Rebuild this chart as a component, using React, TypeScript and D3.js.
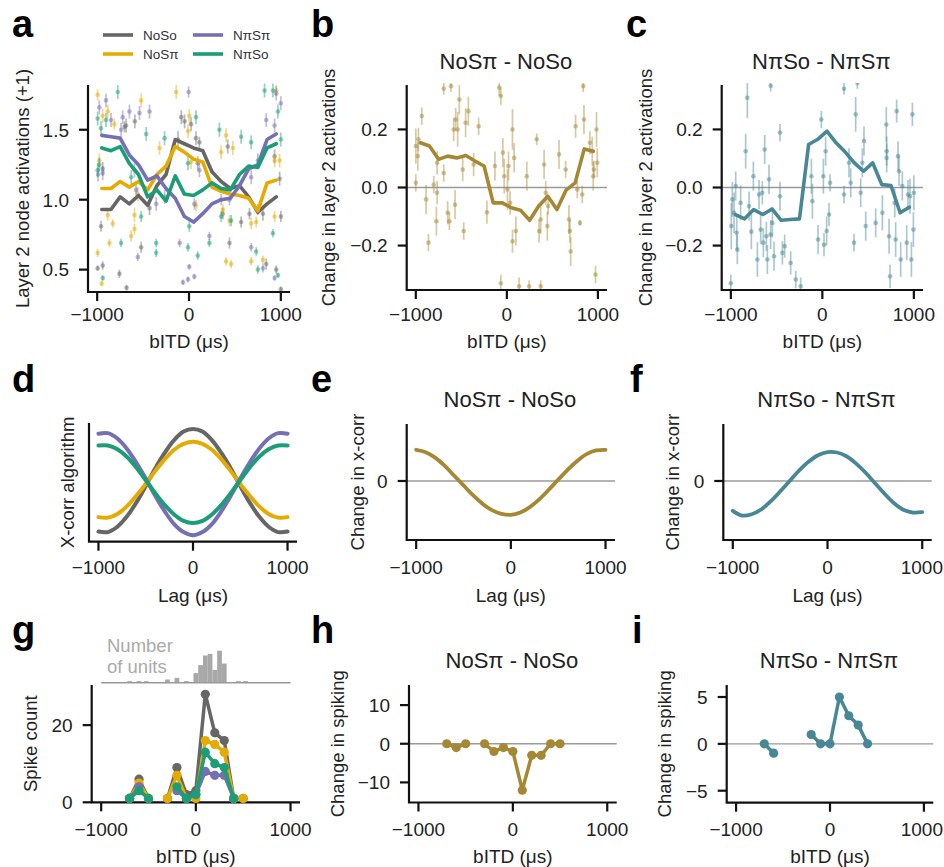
import { useEffect, useRef } from 'react';
import * as d3 from 'd3';

const FONT = '"Liberation Sans", Arial, sans-serif';
const GRAY = '#666666';
const YELLOW = '#e6ab02';
const PURPLE = '#7570b3';
const GREEN = '#1b9e77';
const BROWN = '#a68834';
const TEAL = '#488795';

// ---- a-c : binned layer-2 activations (bin centres in us)
const binCentres = [-950, -850, -750, -650, -550, -450, -350, -250, -150, -50, 50, 150, 250, 350, 450, 550, 650, 750, 850, 950];
const meanNoSo = [0.93, 0.93, 1.02, 0.97, 1.03, 0.96, 1.10, 1.18, 1.43, 1.40, 1.37, 1.35, 1.20, 1.13, 1.08, 1.10, 1.02, 0.91, 0.97, 1.02];
const meanNoSpi = [1.08, 1.08, 1.13, 1.09, 1.13, 1.07, 1.18, 1.24, 1.38, 1.34, 1.29, 1.27, 1.09, 1.06, 1.04, 1.03, 1.01, 0.92, 1.12, 1.14];
const meanNpiSpi = [1.46, 1.45, 1.44, 1.32, 1.25, 1.14, 1.17, 1.08, 1.01, 0.88, 0.84, 0.90, 0.97, 1.00, 1.01, 1.10, 1.22, 1.25, 1.43, 1.47];
const meanNpiSo = [1.37, 1.35, 1.38, 1.26, 1.18, 1.02, 1.07, 0.99, 1.17, 1.04, 1.03, 1.07, 1.12, 1.08, 1.07, 1.18, 1.24, 1.23, 1.37, 1.40];
const diffNoS = [0.154, 0.143, 0.097, 0.108, 0.102, 0.110, 0.091, 0.074, -0.053, -0.053, -0.070, -0.078, -0.113, -0.064, -0.030, -0.076, -0.009, 0.016, 0.133, 0.125];
const diffNpi = [-0.093, -0.108, -0.076, -0.093, -0.074, -0.113, -0.110, -0.108, 0.148, 0.166, 0.194, 0.154, 0.122, 0.085, 0.056, 0.085, 0.010, 0.007, -0.087, -0.068];

// single units: [bITD, value, error]
const unitsNoSo = [[-940, 1.22, 0.05], [-703, 1.52, 0.04], [-685, 1.53, 0.05], [-958, 0.81, 0.04], [-940, 0.53, 0.03], [-758, 0.47, 0.03], [-521, 0.66, 0.04], [-430, 0.94, 0.05], [-120, 1.43, 0.06], [-84, 1.59, 0.05], [-48, 1.56, 0.05], [22, 1.54, 0.05], [76, 1.44, 0.05], [113, 1.41, 0.04], [95, 1.26, 0.05], [368, 0.90, 0.04], [422, 1.38, 0.05], [441, 0.69, 0.04], [568, 0.84, 0.04], [659, 0.90, 0.04], [805, 0.90, 0.05], [932, 1.31, 0.05], [987, 1.15, 0.05], [1000, 0.88, 0.04], [841, 0.54, 0.04], [950, 0.50, 0.03], [-995, 0.51, 0.02], [-590, 1.56, 0.05], [-680, 0.37, 0.02], [1000, 0.36, 0.02]];
const unitsNoSpi = [[-995, 1.75, 0.04], [-940, 1.60, 0.05], [-885, 1.63, 0.05], [-813, 1.54, 0.04], [-977, 1.28, 0.05], [-885, 0.89, 0.04], [-831, 0.83, 0.03], [-995, 0.62, 0.03], [-867, 0.69, 0.03], [-951, 0.40, 0.02], [-558, 1.04, 0.05], [-521, 1.71, 0.05], [-594, 0.89, 0.05], [-594, 0.79, 0.04], [-630, 0.74, 0.04], [-321, 1.37, 0.05], [-139, 1.77, 0.05], [-11, 1.49, 0.05], [3, 1.60, 0.05], [22, 1.27, 0.05], [76, 0.96, 0.04], [350, 1.34, 0.05], [404, 1.46, 0.05], [477, 1.37, 0.05], [368, 0.93, 0.04], [441, 0.85, 0.04], [677, 0.83, 0.04], [732, 0.84, 0.04], [805, 0.57, 0.03], [932, 1.28, 0.05], [987, 1.28, 0.05], [932, 0.88, 0.04], [404, 0.56, 0.03], [459, 0.54, 0.03], [677, 0.56, 0.03], [950, 1.78, 0.04]];
const unitsNpiSpi = [[-977, 1.66, 0.05], [-904, 1.71, 0.05], [-849, 1.57, 0.05], [-740, 1.50, 0.05], [-722, 1.59, 0.05], [-649, 1.63, 0.05], [-539, 1.62, 0.05], [-430, 1.63, 0.05], [-594, 1.21, 0.05], [-576, 1.07, 0.04], [-558, 0.59, 0.03], [-357, 0.97, 0.05], [-266, 1.02, 0.05], [-102, 0.69, 0.03], [-66, 0.41, 0.02], [-11, 0.43, 0.02], [-4, 1.77, 0.04], [58, 0.97, 0.04], [113, 1.21, 0.05], [222, 0.74, 0.03], [350, 1.0, 0.04], [441, 1.0, 0.04], [677, 1.16, 0.05], [750, 0.93, 0.04], [841, 1.57, 0.05], [932, 1.53, 0.05], [950, 1.76, 0.05], [1000, 1.69, 0.05], [677, 0.66, 0.03], [805, 0.51, 0.03], [932, 0.44, 0.02], [3, 0.52, 0.02], [58, 0.45, 0.02], [-990, 1.18, 0.05], [-940, 1.19, 0.05]];
const unitsNpiSo = [[-995, 1.21, 0.05], [-977, 1.25, 0.05], [-958, 1.51, 0.05], [-904, 1.57, 0.05], [-776, 1.77, 0.05], [-740, 0.69, 0.03], [-630, 1.16, 0.05], [-521, 0.88, 0.04], [-466, 1.47, 0.05], [-357, 0.69, 0.03], [-357, 0.62, 0.03], [-266, 1.44, 0.05], [-11, 0.66, 0.03], [-11, 1.26, 0.05], [76, 1.59, 0.05], [3, 0.81, 0.04], [95, 0.60, 0.03], [222, 0.69, 0.03], [331, 1.50, 0.05], [350, 0.88, 0.04], [459, 0.85, 0.04], [568, 1.45, 0.05], [677, 1.41, 0.05], [750, 1.28, 0.05], [823, 1.78, 0.05], [914, 1.78, 0.05], [969, 1.63, 0.05], [1000, 1.43, 0.05], [914, 0.76, 0.03], [750, 0.50, 0.03], [732, 0.63, 0.03], [969, 0.46, 0.02], [-995, 1.58, 0.05], [-940, 0.44, 0.02]];
const unitsDiffNoS = [[-1000, 0.143, 0.06], [-1000, 0.016, 0.03], [-978, 0.108, 0.05], [-971, 0.166, 0.04], [-934, 0.246, 0.03], [-887, -0.041, 0.05], [-861, -0.19, 0.03], [-803, 0.01, 0.03], [-774, -0.116, 0.05], [-766, -0.018, 0.04], [-766, 0.085, 0.04], [-693, 0.34, 0.02], [-693, 0.05, 0.03], [-650, -0.087, 0.04], [-631, -0.116, 0.03], [-613, 0.349, 0.02], [-584, 0.2, 0.04], [-569, -0.059, 0.05], [-562, 0.234, 0.04], [-540, 0.2, 0.06], [-522, 0.303, 0.05], [-485, 0.062, 0.04], [-474, -0.15, 0.03], [-453, 0.223, 0.05], [-423, 0.263, 0.05], [-365, 0.079, 0.04], [-310, 0.211, 0.03], [-219, -0.085, 0.04], [-131, 0.074, 0.05], [-84, 0.344, 0.03], [-66, 0.315, 0.03], [-44, 0.12, 0.05], [-29, 0.039, 0.06], [7, -0.007, 0.07], [18, 0.074, 0.05], [36, -0.053, 0.04], [62, 0.2, 0.07], [62, -0.185, 0.04], [80, 0.102, 0.05], [99, -0.15, 0.05], [-66, -0.33, 0.03], [135, -0.34, 0.03], [245, -0.34, 0.02], [372, -0.34, 0.02], [219, 0.039, 0.05], [328, 0.166, 0.02], [354, -0.15, 0.04], [372, -0.11, 0.05], [409, 0.079, 0.05], [427, -0.018, 0.04], [445, -0.133, 0.05], [453, -0.064, 0.03], [573, 0.114, 0.05], [646, 0.062, 0.03], [682, -0.11, 0.05], [693, -0.15, 0.04], [701, -0.22, 0.05], [755, 0.211, 0.04], [774, -0.007, 0.03], [803, -0.122, 0.01], [828, -0.024, 0.03], [839, 0.349, 0.02], [847, 0.234, 0.05], [912, 0.154, 0.04], [938, 0.125, 0.05], [949, 0.039, 0.05], [956, 0.062, 0.03], [974, -0.3, 0.03], [985, 0.2, 0.06], [993, 0.085, 0.05]];
const unitsDiffNpi = [[-995, -0.133, 0.08], [-984, -0.041, 0.06], [-965, -0.087, 0.07], [-947, 0.005, 0.05], [-936, -0.156, 0.06], [-929, -0.214, 0.05], [-893, -0.053, 0.06], [-838, 0.125, 0.06], [-820, 0.309, 0.07], [-801, -0.064, 0.05], [-776, -0.152, 0.06], [-754, 0.039, 0.05], [-710, -0.248, 0.06], [-692, -0.024, 0.05], [-674, -0.145, 0.05], [-656, -0.018, 0.04], [-645, -0.19, 0.05], [-630, 0.131, 0.05], [-612, -0.168, 0.05], [-601, -0.248, 0.05], [-583, 0.028, 0.05], [-565, -0.162, 0.05], [-546, -0.122, 0.05], [-528, -0.237, 0.05], [-463, 0.189, 0.03], [-463, -0.03, 0.05], [-437, -0.225, 0.04], [-412, -0.202, 0.04], [-346, -0.26, 0.04], [-291, -0.317, 0.03], [-120, 0.039, 0.06], [-109, -0.047, 0.06], [-47, -0.179, 0.05], [-11, 0.234, 0.03], [11, 0.039, 0.06], [18, -0.197, 0.04], [36, 0.125, 0.05], [47, -0.15, 0.05], [73, -0.093, 0.04], [84, 0.016, 0.03], [237, -0.024, 0.03], [291, 0.085, 0.05], [310, 0.016, 0.05], [346, -0.19, 0.03], [364, 0.252, 0.06], [419, -0.018, 0.05], [437, 0.085, 0.05], [455, 0.16, 0.05], [474, -0.133, 0.05], [583, -0.122, 0.05], [656, -0.087, 0.06], [699, 0.217, 0.06], [703, 0.125, 0.05], [703, 0.102, 0.05], [729, -0.168, 0.06], [740, -0.306, 0.04], [791, -0.053, 0.05], [801, -0.179, 0.06], [812, 0.263, 0.04], [827, 0.108, 0.05], [838, 0.056, 0.05], [856, -0.248, 0.06], [874, 0.005, 0.05], [922, -0.19, 0.06], [936, -0.024, 0.05], [958, -0.03, 0.06], [973, -0.248, 0.06], [984, 0.252, 0.04], [995, -0.145, 0.06], [1000, -0.018, 0.06], [-565, 0.35, 0.02], [237, 0.34, 0.02], [383, 0.36, 0.02], [-237, -0.34, 0.03], [-1000, -0.33, 0.03]];

// ---- d-f : cross-correlation model
const lags = [-1000, -900, -800, -700, -600, -500, -400, -300, -200, -100, 0, 100, 200, 300, 400, 500, 600, 700, 800, 900, 1000];
const xcNoSo = [-0.92, -0.93, -0.83, -0.64, -0.38, -0.07, 0.26, 0.55, 0.79, 0.95, 1.0, 0.95, 0.79, 0.55, 0.26, -0.07, -0.38, -0.64, -0.83, -0.93, -0.92];
const xcNoSpi = [-0.65, -0.66, -0.59, -0.45, -0.25, -0.03, 0.21, 0.43, 0.61, 0.72, 0.76, 0.72, 0.61, 0.43, 0.21, -0.03, -0.25, -0.45, -0.59, -0.66, -0.65];
const xcNpiSpi = [0.91, 0.92, 0.82, 0.63, 0.37, 0.07, -0.25, -0.54, -0.78, -0.93, -0.99, -0.93, -0.78, -0.54, -0.25, 0.07, 0.37, 0.63, 0.82, 0.92, 0.91];
const xcNpiSo = [0.69, 0.69, 0.62, 0.48, 0.28, 0.04, -0.20, -0.42, -0.60, -0.72, -0.76, -0.72, -0.60, -0.42, -0.20, 0.04, 0.28, 0.48, 0.62, 0.69, 0.69];
const xcDiffNoS = [0.92, 0.85, 0.69, 0.45, 0.16, -0.13, -0.42, -0.67, -0.86, -0.97, -1.0, -0.93, -0.77, -0.54, -0.26, 0.04, 0.33, 0.59, 0.79, 0.90, 0.92];
const xcDiffNpi = [-0.88, -1.02, -0.98, -0.84, -0.60, -0.31, 0.0, 0.31, 0.57, 0.76, 0.85, 0.84, 0.73, 0.52, 0.25, -0.06, -0.37, -0.65, -0.85, -0.93, -0.92];

// ---- g-i : recorded spiking
const spikeX = [-700, -600, -500, -300, -200, -100, 0, 100, 200, 300, 400, 500];
const spikeNoSo = [1, 6, 1, 1, 9, 2, 3, 28, 18, 16, 1, 1];
const spikeNoSpi = [1, 5, 1, 1, 7, 1, 1, 16, 15, 13, 1, 1];
const spikeNpiSpi = [1, 4, null, null, 3, 1, 2, 8, 7, 7, 1, null];
const spikeNpiSo = [1, 3, 1, null, 4, 1, 2, 13, 10, 9, 1, null];
const spikeDiffNoS = [0, -1, 0, 0, -2, -1, -2, -12, -3, -3, 0, 0];
const spikeDiffX = [-700, -600, -200, -100, 0, 100, 200, 300, 400];
const spikeDiffNpi = [0, -1, 1, 0, 0, 5, 3, 2, 0];
const unitBinLeft = [-725, -625, -550, -325, -225, -125, -25, 25, 75, 125, 175, 225, 275, 425, 500];
const unitBinCount = [1, 1, 1, 2, 3, 1, 6, 11, 17, 18, 8, 20, 12, 1, 1];
const unitBinWidth = 50;

type Box = { l: number; r: number; t: number; b: number };

export default function App() {
  const ref = useRef<SVGSVGElement>(null);

  useEffect(() => {
    const svg = d3.select(ref.current);
    svg.selectAll('*').remove();
    svg.append('rect').attr('width', 944).attr('height', 867).attr('fill', '#fff');

    const xOf = (b: Box) => d3.scaleLinear().domain([-1100, 1100]).range([b.l, b.r]);
    const fmt1 = d3.format('.1f');
    const fmt0 = d3.format('d');
    const TICK = 19;
    let clipId = 0;

    function text(x: number, y: number, s: string, size: number, anchor = 'middle', fill = '#222', weight = 'normal') {
      return svg.append('text')
        .attr('x', x).attr('y', y)
        .attr('text-anchor', anchor)
        .attr('font-family', FONT)
        .attr('font-size', size)
        .attr('font-weight', weight)
        .attr('fill', fill)
        .text(s);
    }

    function frame(b: Box, x: any, y: any, o: any) {
      const g = svg.append('g');
      if (o.zero) {
        g.append('line')
          .attr('x1', b.l).attr('x2', b.r)
          .attr('y1', y(0)).attr('y2', y(0))
          .attr('stroke', '#9a9a9a').attr('stroke-width', 1.4);
      }
      g.append('path')
        .attr('d', `M${b.l},${b.t}V${b.b}H${b.r}`)
        .attr('fill', 'none').attr('stroke', '#111').attr('stroke-width', 2.2);
      [-1000, 0, 1000].forEach(t => {
        g.append('line').attr('x1', x(t)).attr('x2', x(t)).attr('y1', b.b).attr('y2', b.b + 9)
          .attr('stroke', '#111').attr('stroke-width', 2.2);
        const s = fmt0(t);
        const half = s.length * 0.278 * TICK;
        text(Math.min(x(t), 943 - half), o.tickY, s, TICK);
      });
      o.yTicks.forEach((t: number) => {
        g.append('line').attr('x1', b.l - 9).attr('x2', b.l).attr('y1', y(t)).attr('y2', y(t))
          .attr('stroke', '#111').attr('stroke-width', 2.2);
        text(b.l - 19, y(t), o.yFmt(t), TICK, 'end').attr('dy', '0.36em');
      });
      text((b.l + b.r) / 2, o.labelY, o.xLabel, 19);
      text(0, 0, o.yLabel, 18.5)
        .attr('transform', `translate(${o.yLabelX},${(b.t + b.b) / 2}) rotate(-90)`)
        .attr('dy', '0.36em');
      if (o.title) text(x(0) - 1, o.titleY, o.title, 22);
    }

    function clip(b: Box) {
      const id = `clip${clipId++}`;
      svg.append('clipPath').attr('id', id)
        .append('rect').attr('x', b.l).attr('y', b.t - 2).attr('width', b.r - b.l).attr('height', b.b - b.t + 2);
      return svg.append('g').attr('clip-path', `url(#${id})`);
    }

    function units(g: any, x: any, y: any, data: number[][], color: string) {
      data.forEach(([ux, v, e]) => {
        const px = x(Math.max(-1000, Math.min(1000, ux)));
        g.append('line').attr('x1', px).attr('x2', px).attr('y1', y(v - e)).attr('y2', y(v + e))
          .attr('stroke', color).attr('stroke-width', 1.7).attr('opacity', 0.45);
        g.append('circle').attr('cx', px).attr('cy', y(v)).attr('r', 2.3)
          .attr('fill', color).attr('opacity', 0.5);
      });
    }

    function curve(g: any, x: any, y: any, xs: number[], vs: number[], color: string, w: number, smooth = false) {
      const line = d3.line<number>()
        .x((_, i) => x(xs[i]))
        .y(d => y(d));
      if (smooth) line.curve(d3.curveCatmullRom);
      g.append('path').datum(vs).attr('d', line)
        .attr('fill', 'none').attr('stroke', color).attr('stroke-width', w)
        .attr('stroke-linejoin', 'round').attr('stroke-linecap', 'round');
    }

    function dotted(g: any, x: any, y: any, xs: number[], vs: (number | null)[], color: string) {
      // split into runs of consecutive 100 us steps
      const runs: [number, number][][] = [];
      let cur: [number, number][] = [];
      xs.forEach((xv, i) => {
        const v = vs[i];
        if (v == null) { if (cur.length) runs.push(cur); cur = []; return; }
        if (cur.length && xv - cur[cur.length - 1][0] > 100) { runs.push(cur); cur = []; }
        cur.push([xv, v]);
      });
      if (cur.length) runs.push(cur);
      const line = d3.line<[number, number]>().x(d => x(d[0])).y(d => y(d[1]));
      runs.forEach(r => {
        g.append('path').datum(r).attr('d', line).attr('fill', 'none')
          .attr('stroke', color).attr('stroke-width', 3.5).attr('stroke-linejoin', 'round');
        r.forEach(d => g.append('circle').attr('cx', x(d[0])).attr('cy', y(d[1])).attr('r', 4.6).attr('fill', color));
      });
    }

    // ---------- a
    {
      const b: Box = { l: 88, r: 290, t: 85, b: 292 };
      const x = xOf(b);
      const y = d3.scaleLinear().domain([0.34, 1.82]).range([b.b, b.t]);
      const g = clip(b);
      units(g, x, y, unitsNoSo, GRAY);
      units(g, x, y, unitsNoSpi, YELLOW);
      units(g, x, y, unitsNpiSpi, PURPLE);
      units(g, x, y, unitsNpiSo, GREEN);
      curve(g, x, y, binCentres, meanNoSo, GRAY, 3.6);
      curve(g, x, y, binCentres, meanNoSpi, YELLOW, 3.6);
      curve(g, x, y, binCentres, meanNpiSpi, PURPLE, 3.6);
      curve(g, x, y, binCentres, meanNpiSo, GREEN, 3.6);
      frame(b, x, y, { yTicks: [0.5, 1.0, 1.5], yFmt: fmt1, tickY: 321, labelY: 348, xLabel: 'bITD (μs)', yLabel: 'Layer 2 node activations (+1)', yLabelX: 22 });
      const legend = [['NoSo', GRAY, 0, 0], ['NoSπ', YELLOW, 0, 1], ['NπSπ', PURPLE, 1, 0], ['NπSo', GREEN, 1, 1]] as const;
      legend.forEach(([name, color, col, row]) => {
        const lx = 103 + col * 90;
        const ly = 35 + row * 19;
        svg.append('line').attr('x1', lx).attr('x2', lx + 30).attr('y1', ly).attr('y2', ly)
          .attr('stroke', color).attr('stroke-width', 3.6);
        text(lx + 40, ly + 4.8, name, 13.5, 'start', '#333');
      });
    }

    // ---------- b, c
    [
      { b: { l: 406.7, r: 607, t: 85, b: 290 }, units: unitsDiffNoS, mean: diffNoS, color: BROWN, title: 'NoSπ - NoSo', ylx: 328 },
      { b: { l: 721.7, r: 923, t: 85, b: 290 }, units: unitsDiffNpi, mean: diffNpi, color: TEAL, title: 'NπSo - NπSπ', ylx: 645 },
    ].forEach(p => {
      const x = xOf(p.b);
      const y = d3.scaleLinear().domain([-0.353, 0.353]).range([p.b.b, p.b.t]);
      svg.append('line').attr('x1', p.b.l).attr('x2', p.b.r).attr('y1', y(0)).attr('y2', y(0))
        .attr('stroke', '#9a9a9a').attr('stroke-width', 1.4);
      const g = clip(p.b);
      units(g, x, y, p.units, p.color);
      curve(g, x, y, binCentres, p.mean, p.color, 3.6);
      frame(p.b, x, y, { yTicks: [-0.2, 0, 0.2], yFmt: fmt1, tickY: 321, labelY: 348, xLabel: 'bITD (μs)', yLabel: 'Change in layer 2 activations', yLabelX: p.ylx, title: p.title, titleY: 69 });
    });

    // ---------- d
    {
      const b: Box = { l: 89, r: 297, t: 423, b: 541.7 };
      const x = xOf(b);
      const y = d3.scaleLinear().domain([-1.11, 1.11]).range([b.b, b.t]);
      curve(svg, x, y, lags, xcNoSo, GRAY, 4, true);
      curve(svg, x, y, lags, xcNoSpi, YELLOW, 4, true);
      curve(svg, x, y, lags, xcNpiSpi, PURPLE, 4, true);
      curve(svg, x, y, lags, xcNpiSo, GREEN, 4, true);
      frame(b, x, y, { yTicks: [], yFmt: fmt1, tickY: 574, labelY: 602, xLabel: 'Lag (μs)', yLabel: 'X-corr algorithm', yLabelX: 67 });
    }

    // ---------- e, f
    [
      { b: { l: 406.7, r: 615, t: 424, b: 540 }, vals: xcDiffNoS, color: BROWN, title: 'NoSπ - NoSo', ylx: 357 },
      { b: { l: 723.3, r: 931.7, t: 424, b: 540 }, vals: xcDiffNpi, color: TEAL, title: 'NπSo - NπSπ', ylx: 672 },
    ].forEach(p => {
      const x = xOf(p.b);
      const y = d3.scaleLinear().domain([-1.74, 1.68]).range([p.b.b, p.b.t]);
      frame(p.b, x, y, { zero: true, yTicks: [0], yFmt: fmt0, tickY: 574, labelY: 602, xLabel: 'Lag (μs)', yLabel: 'Change in x-corr', yLabelX: p.ylx, title: p.title, titleY: 407 });
      curve(svg, x, y, lags, p.vals, p.color, 3.8, true);
    });

    // ---------- g
    {
      const b: Box = { l: 91.7, r: 300, t: 685, b: 802.3 };
      const x = xOf(b);
      const y = d3.scaleLinear().domain([0, 30.4]).range([b.b, b.t]);
      frame(b, x, y, { yTicks: [0, 20], yFmt: fmt0, tickY: 836, labelY: 863, xLabel: 'bITD (μs)', yLabel: 'Spike count', yLabelX: 30 });
      dotted(svg, x, y, spikeX, spikeNoSo, GRAY);
      dotted(svg, x, y, spikeX, spikeNoSpi, YELLOW);
      dotted(svg, x, y, spikeX, spikeNpiSpi, PURPLE);
      dotted(svg, x, y, spikeX, spikeNpiSo, GREEN);
      // histogram of units
      const hBase = 682.7;
      const hy = d3.scaleLinear().domain([0, 20]).range([hBase, hBase - 32]);
      unitBinLeft.forEach((l, i) => {
        svg.append('rect').attr('x', x(l)).attr('width', x(l + unitBinWidth) - x(l))
          .attr('y', hy(unitBinCount[i])).attr('height', hBase - hy(unitBinCount[i]))
          .attr('fill', '#a8a8a8');
      });
      svg.append('line').attr('x1', x(-1000)).attr('x2', x(1000)).attr('y1', hBase).attr('y2', hBase)
        .attr('stroke', '#999').attr('stroke-width', 1.5);
      text(107, 652, 'Number', 18.5, 'start', '#aaaaaa');
      text(107, 673, 'of units', 18.5, 'start', '#aaaaaa');
    }

    // ---------- h, i
    [
      { b: { l: 409, r: 616.7, t: 685, b: 802.5 }, dom: 15.2, ticks: [-10, 0, 10], xs: spikeX, vals: spikeDiffNoS, color: BROWN, title: 'NoSπ - NoSo', ylx: 337 },
      { b: { l: 726.7, r: 933.3, t: 685, b: 802.7 }, dom: 6.28, ticks: [-5, 0, 5], xs: spikeDiffX, vals: spikeDiffNpi, color: TEAL, title: 'NπSo - NπSπ', ylx: 664 },
    ].forEach(p => {
      const x = xOf(p.b);
      const y = d3.scaleLinear().domain([-p.dom, p.dom]).range([p.b.b, p.b.t]);
      frame(p.b, x, y, { zero: true, yTicks: p.ticks, yFmt: fmt0, tickY: 836, labelY: 863, xLabel: 'bITD (μs)', yLabel: 'Change in spiking', yLabelX: p.ylx, title: p.title, titleY: 668 });
      dotted(svg, x, y, p.xs, p.vals, p.color);
    });

    // panel letters
    const letters: [string, number, number][] = [
      ['a', 12, 37], ['b', 311, 37], ['c', 626, 37],
      ['d', 12, 392], ['e', 311, 392], ['f', 630, 392],
      ['g', 12, 643], ['h', 311, 643], ['i', 632, 643],
    ];
    letters.forEach(([s, lx, ly]) => text(lx, ly, s, 38, 'start', '#000', 'bold'));
  }, []);

  return <svg ref={ref} width={944} height={867} style={{ position: 'absolute', left: 0, top: 0 }} />;
}
